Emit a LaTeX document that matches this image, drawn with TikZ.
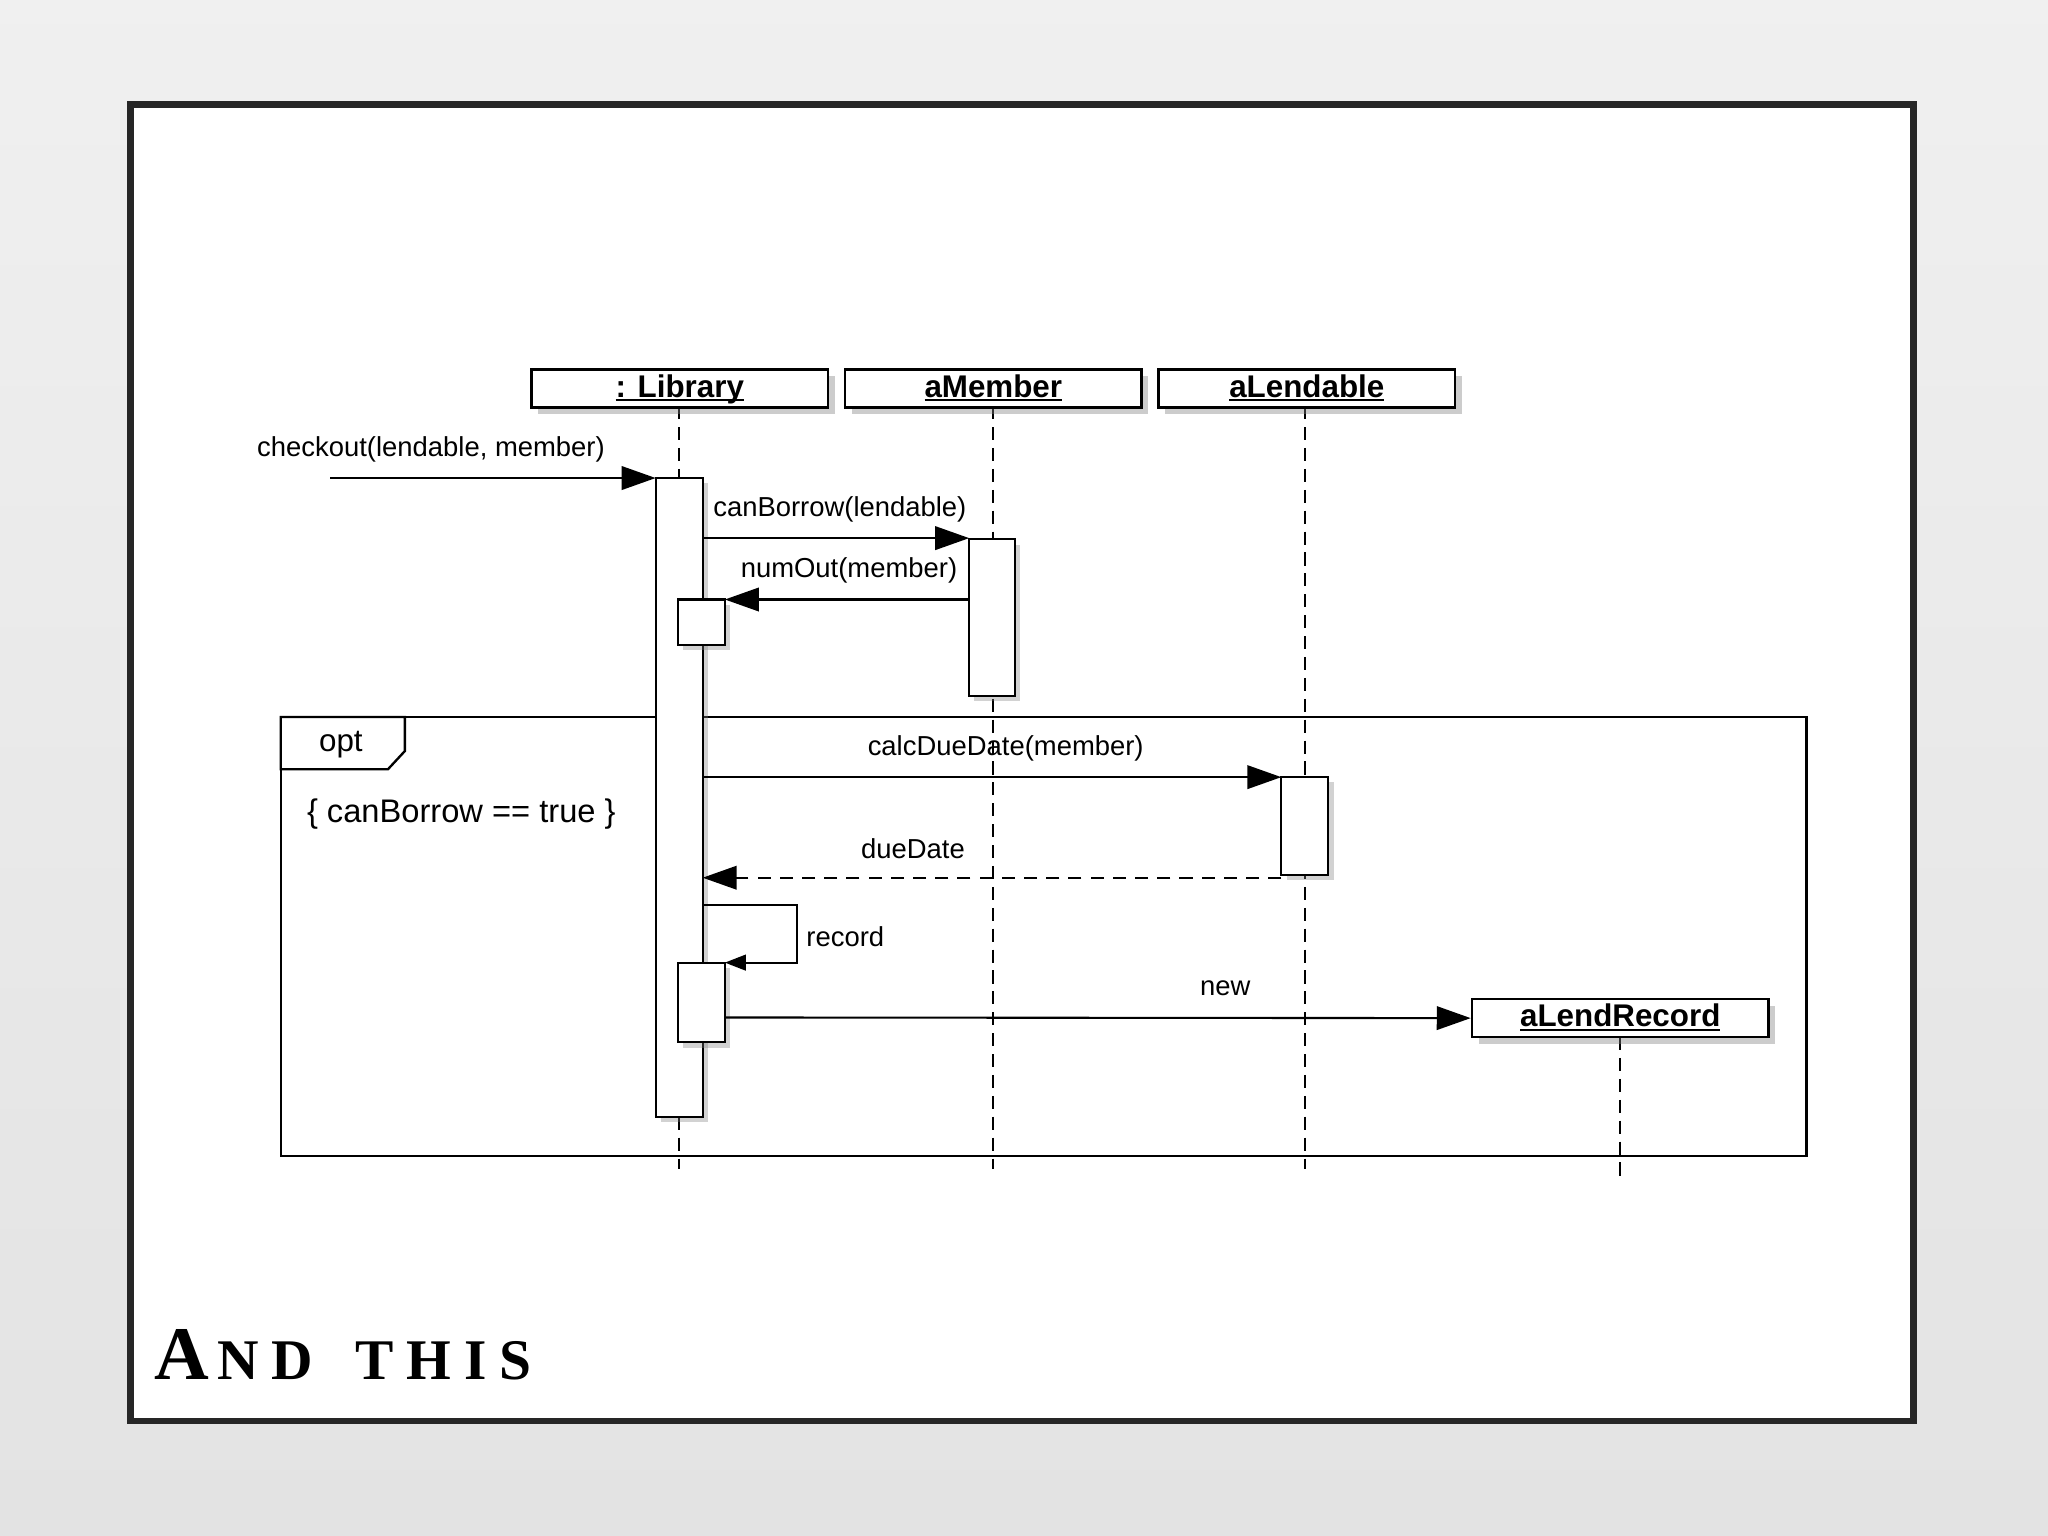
\documentclass[tikz,border=0pt]{standalone}
\usepackage{fontspec}
\setmainfont{Liberation Sans}
\newfontfamily\titlefont{Liberation Serif}
\usetikzlibrary{arrows.meta,shadows}
\newcommand{\myul}[1]{{\setbox0\hbox{#1}\rlap{\rule[-1.6pt]{\wd0}{0.8pt}}\box0}}
\begin{document}
\begin{tikzpicture}[x=0.5pt,y=-0.5pt,
  msg/.style={-{Triangle[length=13pt,width=9pt]},line width=0.8pt},
  obj/.style={draw,line width=1pt,fill=white,minimum height=14.5pt,text height=9pt,text depth=2.5pt,anchor=north west,inner sep=0pt,font=\bfseries\fontsize{12}{14}\selectfont,drop shadow={shadow xshift=2.5pt,shadow yshift=-2.5pt,opacity=0.4}},
  act/.style={draw,line width=0.8pt,fill=white,drop shadow={shadow xshift=2pt,shadow yshift=-2pt,opacity=0.35}},
  life/.style={dashed,line width=0.8pt,dash pattern=on 5pt off 3pt},
  lbl/.style={font=\fontsize{10.5}{12}\selectfont,inner sep=1pt}]
\useasboundingbox (0,0) rectangle (1568,1176);
\fill[top color=gray!12,bottom color=gray!22] (0,0) rectangle (1568,1176);
\fill[white] (100,80) rectangle (1465,1088);
\draw[line width=2.5pt,black!85] (100,80) rectangle (1465,1088);
% lifelines
\draw[life] (520,311) -- (520,895);
\draw[life] (760,311) -- (760,895);
\draw[life] (999,311) -- (999,895);
\draw[life] (1240,794) -- (1240,905);
% heads
\node[obj,minimum width=113.5pt] (lib) at (406,282) {\myul{: Library}};
\node[obj,minimum width=113.5pt] (mem) at (646,282) {\myul{aMember}};
\node[obj,minimum width=113.5pt] (len) at (886,282) {\myul{aLendable}};
% opt frame
\draw[line width=0.9pt] (215,549) rectangle (1383,885);
\draw[line width=0.9pt,fill=white] (215,549) -- (310,549) -- (310,575) -- (297,589) -- (215,589) -- cycle;
\node[font=\fontsize{12}{14}\selectfont] (opt) at (261,570) {opt};
\node[font=\fontsize{12.5}{14}\selectfont,anchor=west] (grd) at (228,623) {\{ canBorrow == true \}};
% activations
\draw[act] (502,366) rectangle (538,855);
\draw[act] (742,413) rectangle (777,533);
\draw[act] (519,459) rectangle (555,494);
\draw[act] (981,595) rectangle (1017,670);
\draw[act] (519,737) rectangle (555,798);
\node[obj,minimum width=113.5pt] (rec) at (1126,764) {\myul{aLendRecord}};
% messages
\coordinate (c0) at (253,366); \coordinate (c1) at (502,366);
\draw[msg] (c0) -- (c1);
\node[lbl] (l1) at (330,344) {checkout(lendable, member)};
\coordinate (b0) at (538,412); \coordinate (b1) at (742,412);
\draw[msg] (b0) -- (b1);
\node[lbl] (l2) at (643,390) {canBorrow(lendable)};
\coordinate (n0) at (742,459); \coordinate (n1) at (555,459);
\draw[msg] (n0) -- (n1);
\node[lbl] (l3) at (650,437) {numOut(member)};
\coordinate (d0) at (538,595); \coordinate (d1) at (981,595);
\draw[msg] (d0) -- (d1);
\node[lbl] (l4) at (770,573) {calcDueDate(member)};
\coordinate (r0) at (981,672); \coordinate (r1) at (538,672);
\draw[msg,dash pattern=on 5pt off 3.5pt] (r0) -- (r1);
\node[lbl] (l5) at (699,650) {dueDate};
\coordinate (s0) at (538,693); \coordinate (s1) at (555,737);
\draw[msg,-{Triangle[length=8pt,width=6pt]}] (s0) -- (610,693) -- (610,737) -- (s1);
\node[lbl,anchor=west] (l6) at (615,717) {record};
\coordinate (w0) at (555,779);
\draw[msg] (w0) -- (rec.west);
\node[lbl] (l7) at (938,757) {new};
% title
\node[anchor=base west,inner sep=0pt,font=\titlefont\bfseries] (t) at (118,1056) {\fontsize{29}{29}\selectfont A\kern3pt\fontsize{22}{22}\selectfont N\kern5pt D\kern16pt T\kern5pt H\kern5pt I\kern5pt S};
\end{tikzpicture}
\end{document}
